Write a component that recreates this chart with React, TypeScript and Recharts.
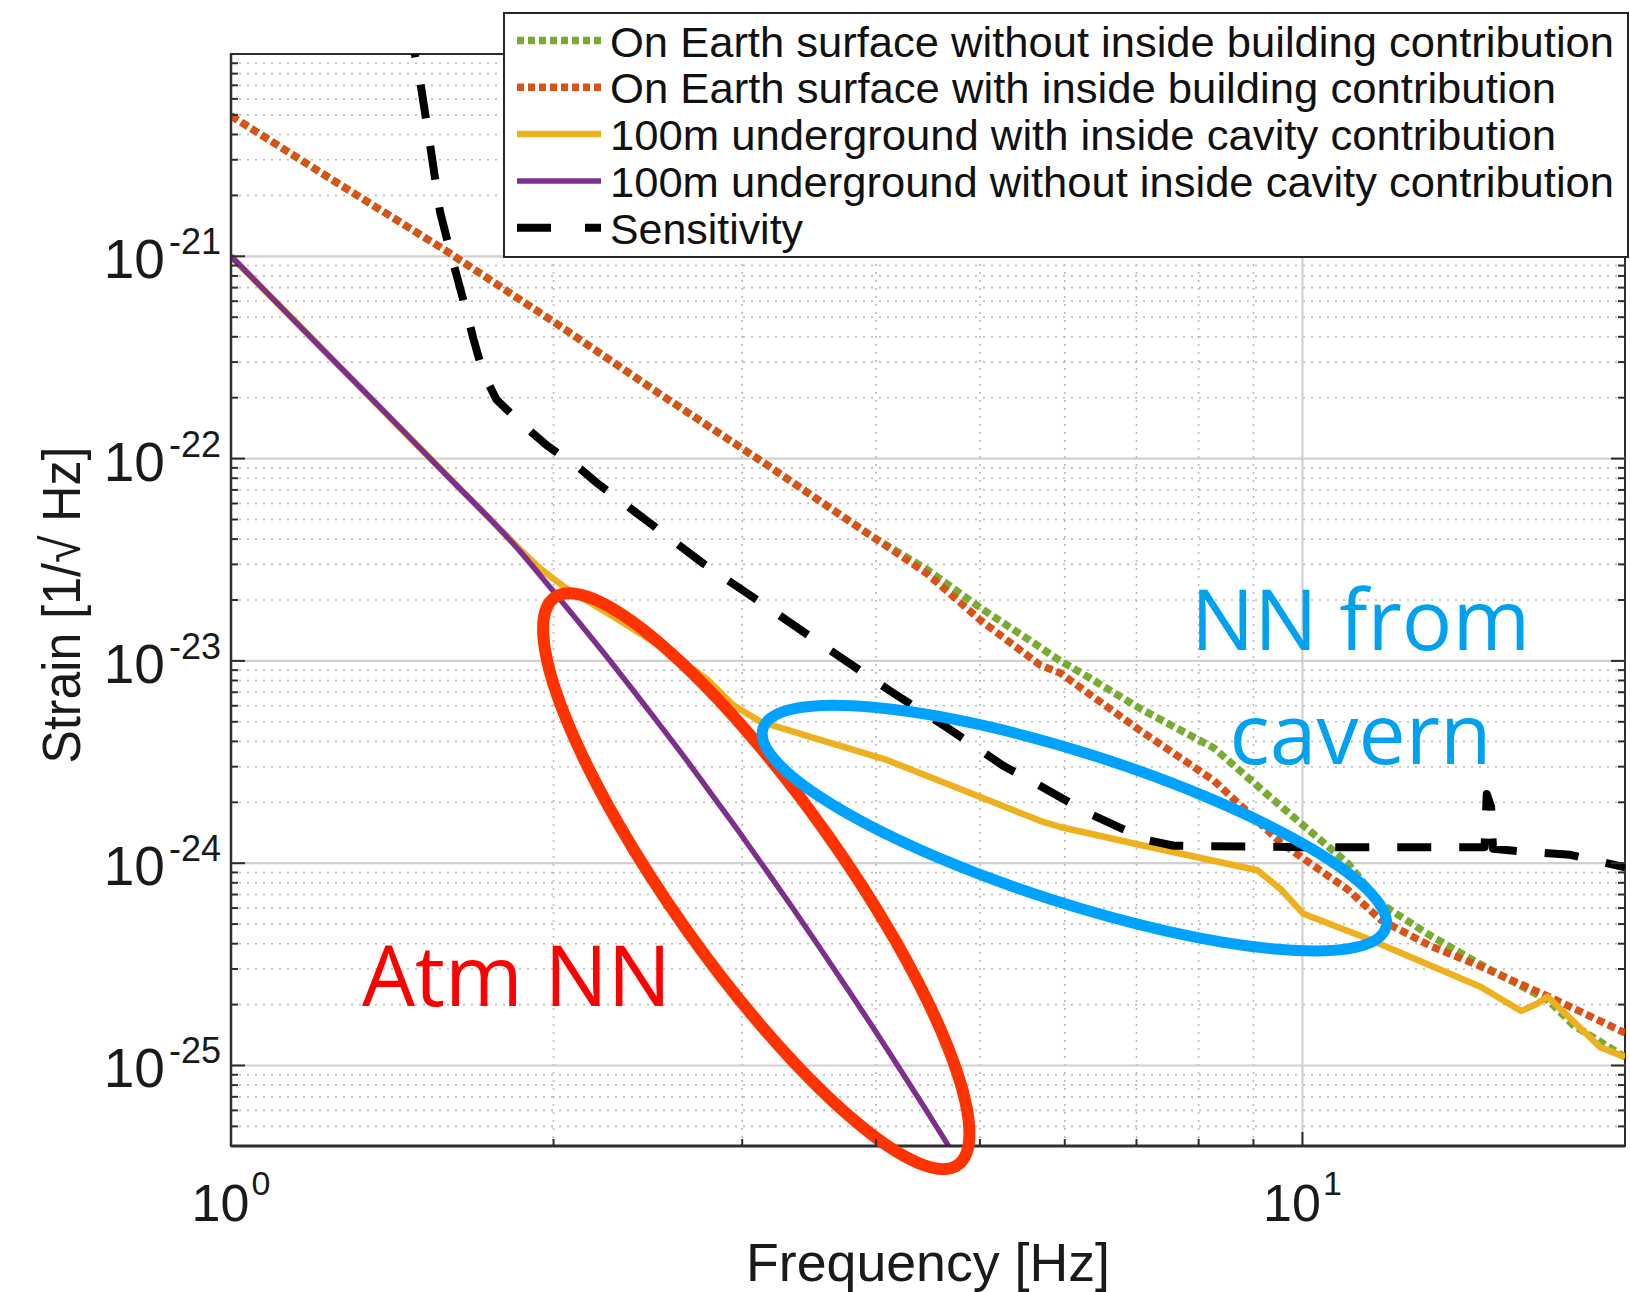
import React from 'react'
import {
  LineChart,
  Line,
  XAxis,
  YAxis,
  Legend,
  ReferenceLine,
  ReferenceArea,
  ReferenceDot,
  Label,
} from 'recharts'

// frequency [Hz] / strain [1/sqrt(Hz)], per curve
const GREEN_F = [1, 1.259, 1.585, 1.995, 2.512, 3.162, 3.802, 3.981, 4.467, 5.012, 5.689, 5.943, 6.31, 7.079, 8.26, 9.55, 11.02, 11.83, 13.18, 14.66, 16.98, 17.91, 20]
const GREEN_H = [4.95e-21, 2.29e-21, 1.07e-21, 4.79e-22, 2.09e-22, 9.33e-23, 4.79e-23, 4.07e-23, 2.82e-23, 1.82e-23, 1.17e-23, 1.0e-23, 8.32e-24, 5.75e-24, 3.72e-24, 1.91e-24, 1.0e-24, 6.31e-25, 4.37e-25, 3.16e-25, 2.09e-25, 1.58e-25, 1.1e-25]

const RED_F = [1, 1.259, 1.585, 1.995, 2.512, 3.162, 3.802, 3.981, 4.467, 5.012, 5.689, 5.943, 6.31, 7.079, 8.26, 9.55, 11.02, 11.83, 13.18, 14.66, 16.98, 20]
const RED_H = [4.95e-21, 2.29e-21, 1.07e-21, 4.79e-22, 2.09e-22, 9.33e-23, 4.79e-23, 4.07e-23, 2.69e-23, 1.58e-23, 9.55e-24, 8.71e-24, 6.92e-24, 4.47e-24, 2.57e-24, 1.26e-24, 7.41e-25, 5.25e-25, 3.89e-25, 3.09e-25, 2.19e-25, 1.45e-25]

const ORANGE_F = [1, 1.259, 1.585, 1.862, 1.95, 2.042, 2.307, 2.57, 2.78, 2.944, 3.119, 3.548, 4.093, 4.721, 5.689, 5.943, 7.063, 9.078, 9.55, 10.02, 11.4, 14.66, 16.0, 16.56, 16.93, 18.97, 20]
const ORANGE_H = [1e-21, 2.9e-22, 8.41e-23, 3.55e-23, 2.82e-23, 2.34e-23, 1.58e-23, 1.1e-23, 8.13e-24, 6.03e-24, 5.01e-24, 4.07e-24, 3.24e-24, 2.4e-24, 1.62e-24, 1.51e-24, 1.23e-24, 9.23e-25, 7.41e-25, 5.62e-25, 4.32e-25, 2.45e-25, 1.86e-25, 2.02e-25, 2.19e-25, 1.23e-25, 1.1e-25]

const PURPLE_F = [1, 1.259, 1.585, 1.862, 1.995, 2.113, 2.239, 2.371, 2.512, 2.661, 2.818, 2.985, 3.162, 3.35, 3.548, 3.758, 3.981, 4.217, 4.467, 4.677, 4.73]
const PURPLE_H = [1e-21, 2.9e-22, 8.41e-23, 3.47e-23, 2.24e-23, 1.55e-23, 1.06e-23, 7.2e-24, 4.84e-24, 3.24e-24, 2.14e-24, 1.41e-24, 9.16e-25, 5.92e-25, 3.79e-25, 2.41e-25, 1.52e-25, 9.48e-26, 5.87e-26, 3.98e-26, 3.61e-26]

const SENS_F = [1.466, 1.502, 1.534, 1.567, 1.602, 1.625, 1.66, 1.684, 1.72, 1.77, 1.862, 1.972, 2.118, 2.195, 2.392, 2.761, 3.097, 3.472, 3.894, 4.154, 4.659, 5.262, 5.572, 6.295, 7.161, 7.586, 10, 14.79, 14.86, 15.0, 15.06, 15.85, 17.78, 20]
const SENS_H = [1.41e-20, 7.24e-21, 3.55e-21, 1.66e-21, 1.05e-21, 7.94e-22, 5.25e-22, 3.89e-22, 2.63e-22, 1.95e-22, 1.51e-22, 1.16e-22, 8.91e-23, 7.59e-23, 5.37e-23, 3.02e-23, 2.0e-23, 1.32e-23, 8.71e-24, 6.92e-24, 4.68e-24, 3.02e-24, 2.57e-24, 1.78e-24, 1.3e-24, 1.22e-24, 1.2e-24, 1.2e-24, 2.2e-24, 1.9e-24, 1.18e-24, 1.15e-24, 1.1e-24, 9.55e-25]

const X_DOMAIN = [1, 20]
const Y_DOMAIN = [4e-26, 1e-20]
const X_MAJOR = [1, 10]
const X_MINOR = [2, 3, 4, 5, 6, 7, 8, 9]
const Y_MAJOR = [1e-25, 1e-24, 1e-23, 1e-22, 1e-21]
const MANTISSAS = [2, 3, 4, 5, 6, 7, 8, 9]
const Y_DECADES = [-26, -25, -24, -23, -22, -21]
const Y_MINOR = Y_DECADES.flatMap(d => MANTISSAS.map(m => Number(`${m}e${d}`))).filter(
  v => v >= Y_DOMAIN[0] && v <= Y_DOMAIN[1]
)

// annotation anchors (data coordinates)
const ATM_CENTER = { f: 3.092, h: 8.15e-25 }
const CAVERN_CENTER = { f: 6.125, h: 1.49e-24 }
const ATM_TEXT = { f: 1.325, h: 1.96e-25 }
const CAVERN_TEXT = { f: 11.33, h1: 1.13e-23, h2: 3.09e-24 }

const toPoints = (fs: number[], hs: number[]) => fs.map((f, i) => ({ f, h: hs[i] }))

const SERIES = [
  { key: 'green', name: 'On Earth surface without inside building contribution', color: '#77ac30', width: 7.5, dash: '8 4', legendDash: '7 4', curve: 'linear', data: toPoints(GREEN_F, GREEN_H), textLength: 1004 },
  { key: 'red', name: 'On Earth surface with inside building contribution', color: '#d95319', width: 7.5, dash: '8 4', legendDash: '7 4', curve: 'linear', data: toPoints(RED_F, RED_H), textLength: 946 },
  { key: 'orange', name: '100m underground with inside cavity contribution', color: '#edb120', width: 6.5, dash: undefined, legendDash: undefined, curve: 'linear', data: toPoints(ORANGE_F, ORANGE_H), textLength: 946 },
  { key: 'purple', name: '100m underground without inside cavity contribution', color: '#7e2f8e', width: 5.5, dash: undefined, legendDash: undefined, curve: 'monotoneX', data: toPoints(PURPLE_F, PURPLE_H), textLength: 1004 },
  { key: 'sens', name: 'Sensitivity', color: '#000000', width: 8, dash: '34 28', legendDash: '34 34', curve: 'linear', data: toPoints(SENS_F, SENS_H), textLength: 193 },
]

const FONT = '"Liberation Sans", Arial, Helvetica, sans-serif'
const AXIS_COLOR = '#2e2e2e'

const isMajor = (v: number) => Math.abs(Math.log10(v) - Math.round(Math.log10(v))) < 1e-6

const YTick = (props: any) => {
  const { x, y, payload, side } = props
  const v = payload.value
  const major = isMajor(v)
  const len = major ? 14 : 7
  const dir = side === 'left' ? 1 : -1
  return (
    <g>
      <line x1={x} x2={x + dir * len} y1={y} y2={y} stroke={AXIS_COLOR} strokeWidth={2} />
      {major && side === 'left' && (
        <text x={x - 10} y={y + 22} textAnchor="end" fontSize={55} fill="#1a1a1a" fontFamily={FONT}>
          10
          <tspan dx={4} dy={-24} fontSize={36}>
            {Math.round(Math.log10(v))}
          </tspan>
        </text>
      )}
    </g>
  )
}

const XTick = (props: any) => {
  const { x, y, payload } = props
  const v = payload.value
  const major = isMajor(v)
  const len = major ? 14 : 7
  return (
    <g>
      <line x1={x} x2={x} y1={y} y2={y - len} stroke={AXIS_COLOR} strokeWidth={2} />
      {major && (
        <text x={x} y={y + 75} textAnchor="middle" fontSize={52} fill="#1a1a1a" fontFamily={FONT}>
          10
          <tspan dx={2} dy={-26} fontSize={34}>
            {Math.round(Math.log10(v))}
          </tspan>
        </text>
      )}
    </g>
  )
}

const renderLegend = () => (
  <svg width={1126} height={246} style={{ display: 'block' }}>
    <rect x={1} y={1} width={1124} height={244} fill="#ffffff" stroke="#262626" strokeWidth={2} />
    {SERIES.map((s, i) => {
      const base = 44.5 + i * 46.8
      return (
        <g key={s.key}>
          <line
            x1={14}
            x2={98}
            y1={base - 16}
            y2={base - 16}
            stroke={s.color}
            strokeWidth={s.width}
            strokeDasharray={s.legendDash}
          />
          <text
            x={107}
            y={base}
            fontSize={43}
            fontFamily={FONT}
            fill="#111"
            textLength={s.textLength}
            lengthAdjust="spacingAndGlyphs"
          >
            {s.name}
          </text>
        </g>
      )
    })}
  </svg>
)

export default function App() {
  return (
    <div style={{ position: 'absolute', left: 0, top: 0, background: '#fff' }}>
      <LineChart width={1630} height={1292} margin={{ top: 54, right: 0, bottom: 0, left: 0 }}>
        <XAxis
          dataKey="f"
          type="number"
          scale="log"
          domain={X_DOMAIN}
          allowDataOverflow
          ticks={[...X_MAJOR, ...X_MINOR]}
          interval={0}
          tickSize={0}
          tickMargin={0}
          tickLine={false}
          tick={<XTick />}
          axisLine={{ stroke: AXIS_COLOR, strokeWidth: 3 }}
          height={146}
        >
          <Label
            content={(p: any) => (
              <text
                x={p.viewBox.x + p.viewBox.width / 2}
                y={p.viewBox.y + 135}
                textAnchor="middle"
                fontSize={54}
                fontFamily={FONT}
                fill="#1a1a1a"
                textLength={364}
                lengthAdjust="spacingAndGlyphs"
              >
                Frequency [Hz]
              </text>
            )}
          />
        </XAxis>
        <YAxis
          yAxisId="left"
          type="number"
          scale="log"
          domain={Y_DOMAIN}
          allowDataOverflow
          ticks={[...Y_MAJOR, ...Y_MINOR]}
          interval={0}
          tickSize={0}
          tickMargin={0}
          tickLine={false}
          tick={<YTick side="left" />}
          axisLine={{ stroke: AXIS_COLOR, strokeWidth: 2.5 }}
          width={231}
        >
          <Label
            content={() => (
              <text
                x={80}
                y={605}
                transform="rotate(-90 80 605)"
                textAnchor="middle"
                fontSize={54}
                fontFamily={FONT}
                fill="#1a1a1a"
                textLength={317}
                lengthAdjust="spacingAndGlyphs"
              >
                Strain [1/√ Hz]
              </text>
            )}
          />
        </YAxis>
        <YAxis
          yAxisId="right"
          orientation="right"
          type="number"
          scale="log"
          domain={Y_DOMAIN}
          allowDataOverflow
          ticks={[...Y_MAJOR, ...Y_MINOR]}
          interval={0}
          tickSize={0}
          tickMargin={0}
          tickLine={false}
          tick={<YTick side="right" />}
          axisLine={false}
          width={5}
        />

        {Y_MINOR.map(v => (
          <ReferenceLine key={`ym${v}`} yAxisId="left" y={v} stroke="#b8b8b8" strokeWidth={1.6} strokeDasharray="2 6" />
        ))}
        {X_MINOR.map(v => (
          <ReferenceLine key={`xm${v}`} yAxisId="left" x={v} stroke="#b8b8b8" strokeWidth={1.6} strokeDasharray="2 6" />
        ))}
        {Y_MAJOR.map(v => (
          <ReferenceLine key={`yM${v}`} yAxisId="left" y={v} stroke="#d0d0d0" strokeWidth={2.2} />
        ))}
        <ReferenceLine yAxisId="left" x={10} stroke="#d0d0d0" strokeWidth={2.2} />
        <ReferenceArea
          yAxisId="left"
          x1={X_DOMAIN[0]}
          x2={X_DOMAIN[1]}
          y1={Y_DOMAIN[0]}
          y2={Y_DOMAIN[1]}
          fill="none"
          fillOpacity={0}
          stroke={AXIS_COLOR}
          strokeWidth={2}
        />

        {SERIES.map(s => (
          <Line
            key={s.key}
            yAxisId="left"
            data={s.data}
            dataKey="h"
            name={s.name}
            type={s.curve as any}
            stroke={s.color}
            strokeWidth={s.width}
            strokeDasharray={s.dash}
            strokeLinecap="butt"
            strokeLinejoin="round"
            dot={false}
            activeDot={false}
            isAnimationActive={false}
          />
        ))}

        <ReferenceDot
          yAxisId="left"
          x={ATM_CENTER.f}
          y={ATM_CENTER.h}
          r={1}
          shape={(p: any) => (
            <ellipse
              cx={p.cx}
              cy={p.cy}
              rx={348}
              ry={85}
              transform={`rotate(54.6 ${p.cx} ${p.cy})`}
              fill="none"
              stroke="#ff3300"
              strokeWidth={12}
            />
          )}
        />
        <ReferenceDot
          yAxisId="left"
          x={CAVERN_CENTER.f}
          y={CAVERN_CENTER.h}
          r={1}
          shape={(p: any) => (
            <ellipse
              cx={p.cx}
              cy={p.cy}
              rx={327}
              ry={75}
              transform={`rotate(17.8 ${p.cx} ${p.cy})`}
              fill="none"
              stroke="#00a2ff"
              strokeWidth={11}
            />
          )}
        />
        <ReferenceDot
          yAxisId="left"
          x={ATM_TEXT.f}
          y={ATM_TEXT.h}
          r={1}
          shape={(p: any) => (
            <text x={p.cx} y={p.cy} fontSize={84} fontFamily='"Open Sans", sans-serif' fill="#ff0000">
              Atm NN
            </text>
          )}
        />
        <ReferenceDot
          yAxisId="left"
          x={CAVERN_TEXT.f}
          y={CAVERN_TEXT.h1}
          r={1}
          shape={(p: any) => (
            <text x={p.cx} y={p.cy} textAnchor="middle" fontSize={84} fontFamily='"Open Sans", sans-serif' fill="#00a2f0">
              NN from
            </text>
          )}
        />
        <ReferenceDot
          yAxisId="left"
          x={CAVERN_TEXT.f}
          y={CAVERN_TEXT.h2}
          r={1}
          shape={(p: any) => (
            <text x={p.cx} y={p.cy} textAnchor="middle" fontSize={84} fontFamily='"Open Sans", sans-serif' fill="#00a2f0">
              cavern
            </text>
          )}
        />

        <Legend
          layout="horizontal"
          verticalAlign="middle"
          align="center"
          content={renderLegend}
          wrapperStyle={{ left: 503, top: 12, width: 1126, height: 246 }}
        />
      </LineChart>
    </div>
  )
}
